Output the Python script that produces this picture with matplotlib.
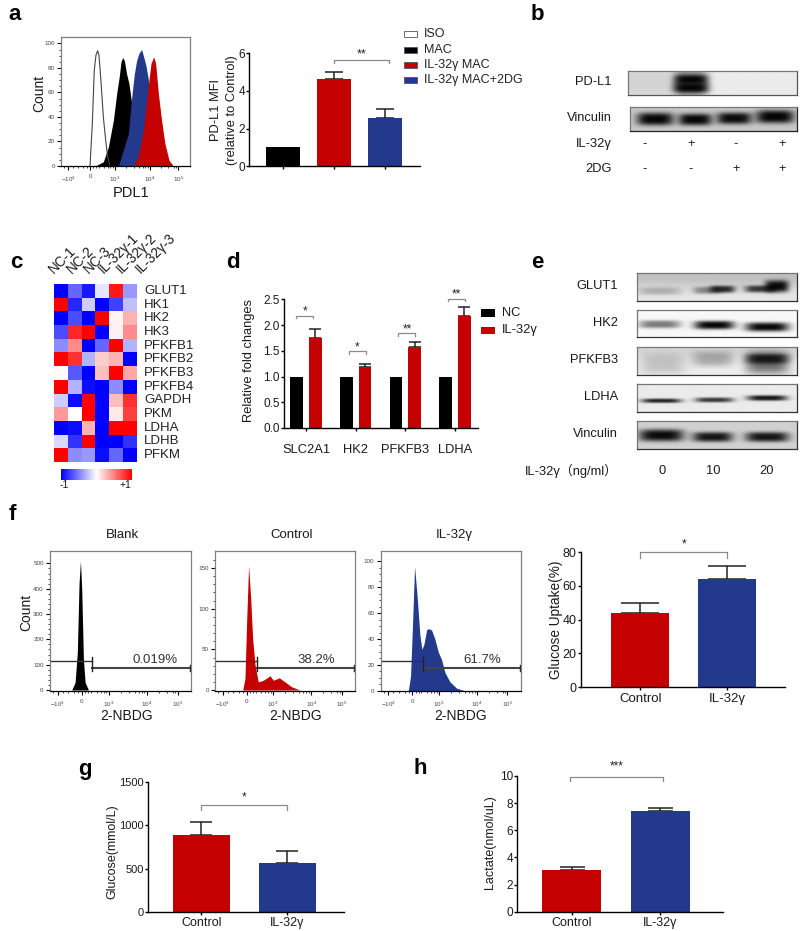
import matplotlib
matplotlib.use("Agg")
import matplotlib.pyplot as plt
import numpy as np
from matplotlib.colors import LinearSegmentedColormap
from matplotlib.patches import Rectangle

plt.rcParams["font.family"] = ["Liberation Sans", "Noto Sans CJK SC"]
plt.rcParams["mathtext.default"] = "regular"

W, H = 800, 931
RED = "#c40000"
BLUE = "#233a8c"
GRAY = "#8a8a8a"
ERR = "#222222"

# a: flow histogram (channel, count)
iso_x = [224, 242, 257, 270, 283, 293, 306, 327, 345, 360, 378]
iso_y = [0, 35, 78, 90.5, 94, 90.5, 73, 40, 21, 7.5, 0]
mac_x = [263, 327, 366, 404, 430, 450, 463, 476, 489, 507, 525, 546, 571, 610, 636]
mac_y = [0, 3.4, 15.7, 37, 59, 73, 85, 88.5, 86, 75, 67, 51, 21, 3, 0]
mac2dg_x = [443, 481, 520, 546, 566, 584, 602, 623, 636, 656, 674, 700, 726, 764]
mac2dg_y = [0, 13, 26.5, 56, 75, 86, 92, 95, 90, 82, 71, 37, 10, 0]
il32_x = [558, 597, 636, 662, 680, 695, 716, 731, 752, 777, 803, 834, 867]
il32_y = [0, 7.5, 29, 53.7, 71, 83.7, 89, 83.7, 59, 37, 18, 4.8, 0]
flow_ticks = [55, 225, 415, 687, 905]
flow_ticklabels = ["$-10^3$", "0", "$10^3$", "$10^4$", "$10^5$"]

# a: MFI bars
mfi_vals = [1, 4.65, 2.55]
mfi_tops = [1, 5.0, 3.05]
legend_a = ["ISO", "MAC", "IL-32γ MAC", "IL-32γ MAC+2DG"]

# c: heatmap
heat_rows = ["GLUT1", "HK1", "HK2", "HK3", "PFKFB1", "PFKFB2", "PFKFB3",
             "PFKFB4", "GAPDH", "PKM", "LDHA", "LDHB", "PFKM"]
heat_cols = ["NC-1", "NC-2", "NC-3", "IL-32γ-1", "IL-32γ-2", "IL-32γ-3"]
heat_vals = [
    [-1, -0.6, -0.9, -0.1, 0.9, -0.4],
    [1, -0.85, -0.2, -1, -0.75, -0.25],
    [-1, -0.7, -1, 1, 0.05, 0.3],
    [-0.7, 0.85, 1, -1, 0.05, 0.45],
    [-0.45, 0.45, -1, -0.6, 1, -0.3],
    [1, 0.8, -0.3, 0.2, 0.3, -1],
    [0.02, -0.65, -1, 0.25, 1, 0.35],
    [1, -0.3, -0.95, -1, -0.45, -1],
    [-0.2, -0.95, 1, -1, 0.25, 0.8],
    [0.4, 0, 1, -1, 0.08, 0.75],
    [-1, -0.95, 0.3, -1, 1, 1],
    [-0.15, -0.8, 1, -1, -1, -0.8],
    [1, -0.45, -0.4, -0.95, -0.6, -1],
]

# d: fold changes
genes = ["SLC2A1", "HK2", "PFKFB3", "LDHA"]
nc_vals = [1, 1, 1, 1]
il_vals = [1.75, 1.18, 1.57, 2.18]
il_tops = [1.93, 1.24, 1.67, 2.35]
d_brackets = [2.18, 1.49, 1.84, 2.51]
d_stars = ["*", "*", "**", "**"]

# f: 2-NBDG histograms
blank_x = [154, 178, 194, 206, 216, 225, 237, 249, 273]
blank_y = [0, 30, 150, 420, 510, 400, 120, 30, 0]
ctrl_x = [198, 214, 226, 240, 255, 269, 286, 309, 345, 393, 417, 459, 500, 547, 607]
ctrl_y = [0, 14, 84, 153, 113, 63, 31, 10, 12, 17.5, 12, 15, 10, 4, 0]
gam_x = [197, 213, 228, 242, 261, 280, 294, 309, 328, 340, 363, 387, 411, 435, 459, 494, 542, 601]
gam_y = [0, 11, 53, 96, 72, 43, 32, 36, 47, 48, 47, 40, 30, 24, 14, 7, 2, 0]

# f, g, h: bars
two_groups = ["Control", "IL-32γ"]
uptake_vals = [44, 64]
uptake_tops = [50, 71.7]
glucose_vals = [890, 560]
glucose_tops = [1045, 705]
lactate_vals = [3.1, 7.4]
lactate_tops = [3.3, 7.65]

# blots: (centre, half width, strength, y centre, half height) in fractions of the strip
blot_pdl1 = [(0.37, 0.1, 0.55, 0.5, 0.6), (0.37, 0.095, 0.95, 0.36, 0.2), (0.37, 0.1, 0.95, 0.7, 0.2),
             (0.1, 0.22, 0.1, 0.5, 0.8)]
blot_vinc_b = [(0.15, 0.11, 0.97, 0.5, 0.27), (0.39, 0.1, 0.97, 0.52, 0.25),
               (0.625, 0.105, 0.95, 0.47, 0.25), (0.87, 0.115, 0.98, 0.4, 0.28)]
blot_glut1 = [(0.5, 1.2, 0.16, 0.0, 0.55), (0.14, 0.13, 0.22, 0.65, 0.14), (0.44, 0.09, 0.4, 0.62, 0.13),
              (0.53, 0.08, 0.8, 0.58, 0.13), (0.77, 0.1, 0.75, 0.57, 0.13), (0.87, 0.075, 0.95, 0.47, 0.22)]
blot_hk2 = [(0.14, 0.13, 0.5, 0.53, 0.15), (0.48, 0.125, 0.97, 0.56, 0.16),
            (0.81, 0.135, 0.97, 0.63, 0.17)]
blot_pfkfb3 = [(0.5, 1.2, 0.1, 0.0, 0.4), (0.16, 0.14, 0.18, 0.6, 0.38), (0.47, 0.13, 0.28, 0.42, 0.28),
               (0.81, 0.135, 0.55, 0.55, 0.42), (0.81, 0.13, 0.8, 0.42, 0.18)]
blot_ldha = [(0.15, 0.125, 0.85, 0.6, 0.08), (0.48, 0.12, 0.75, 0.57, 0.09),
             (0.81, 0.125, 0.9, 0.5, 0.1)]
blot_vinc_e = [(0.15, 0.14, 0.95, 0.51, 0.22), (0.47, 0.125, 0.9, 0.57, 0.18),
               (0.81, 0.135, 0.9, 0.57, 0.18)]
e_doses = ["0", "10", "20"]

fig = plt.figure(figsize=(W / 100, H / 100), dpi=100)


def add_ax(l, t, r, b):
    return fig.add_axes([l / W, 1 - b / H, (r - l) / W, (b - t) / H])


def txt(x, y, s, size=9.3, ha="center", va="center", **kw):
    fig.text(x / W, 1 - y / H, s, fontsize=size, ha=ha, va=va, color=kw.pop("color", "#1a1a1a"), **kw)


def flow_axes(l, t, r, b, ylim, yticks, yminor):
    ax = add_ax(l, t, r, b)
    ax.set_xlim(0, 1000)
    ax.set_ylim(*ylim)
    ax.set_xticks(flow_ticks)
    ax.set_xticklabels(flow_ticklabels, fontsize=4.5, color="#444444")
    ax.set_xticks([20, 90, 130, 170, 200, 250, 270, 290, 330, 360, 380, 400, 500, 560, 600, 630, 650, 670,
                   770, 830, 870, 890], minor=True)
    ax.set_yticks(yticks)
    ax.set_yticks(yminor, minor=True)
    ax.tick_params(axis="y", labelsize=4.5, labelcolor="#444444", length=3, width=0.8, pad=1.5)
    ax.tick_params(axis="x", length=3, width=0.8, pad=3)
    ax.tick_params(which="minor", length=1.5, width=0.5)
    for side in ["top", "right"]:
        ax.spines[side].set_color("#808080")
    for side in ["top", "right", "left", "bottom"]:
        ax.spines[side].set_linewidth(0.9)
    ax.spines["left"].set_color("#808080")
    return ax


def gate(ax, label, label_x):
    tr = ax.get_xaxis_transform()
    ax.plot([0, 300], [0.214, 0.214], color="#333333", lw=1, transform=tr)
    ax.plot([300, 995], [0.164, 0.164], color="#444444", lw=1.5, transform=tr)
    ax.plot([300, 300], [0.145, 0.24], color="#222222", lw=1, transform=tr)
    ax.plot([995, 995], [0.14, 0.185], color="#222222", lw=1, transform=tr)
    ax.text(label_x, 0.222, label, transform=tr, fontsize=9.5, ha="center", va="center", color="#333333")


def bar_axes(l, t, r, b, ylim, yticks, labelsize=8.5):
    ax = add_ax(l, t, r, b)
    ax.set_ylim(*ylim)
    ax.set_yticks(yticks)
    for side in ["top", "right"]:
        ax.spines[side].set_visible(False)
    for side in ["left", "bottom"]:
        ax.spines[side].set_linewidth(1.0)
    ax.tick_params(length=2.5, width=1.0, labelsize=labelsize, pad=0.5, labelcolor="#1a1a1a")
    ax.tick_params(axis="x", pad=1.5)
    return ax


def err_bars(ax, xs, vals, tops, capsize):
    for x, v, top in zip(xs, vals, tops):
        if top > v:
            ax.errorbar(x, v, yerr=[[0], [top - v]], color=ERR, capsize=capsize, elinewidth=1.1,
                        capthick=1.1, zorder=1)


def bracket(ax, x0, x1, y, tip, star, star_dy, size=8.5):
    ax.plot([x0, x0, x1, x1], [y - tip, y, y, y - tip], color=GRAY, lw=0.9, clip_on=False)
    ax.text((x0 + x1) / 2, y + star_dy, star, ha="center", va="center", fontsize=size,
            color="#222222", clip_on=False)


def blot(l, t, r, b, bands, bg, frame="#333333"):
    ax = add_ax(l, t, r, b)
    nx, ny = 240, 50
    gx, gy = np.meshgrid(np.linspace(0, 1, nx), np.linspace(0, 1, ny))
    img = np.full_like(gx, bg, dtype=float)
    for cx, wx, s, cy, hy in bands:
        dark = s * np.exp(-(((gx - cx) / wx) ** 4)) * np.exp(-(np.abs((gy - cy) / hy) ** 3))
        img = img * (1 - dark)
    ax.imshow(img, cmap="gray", vmin=0, vmax=1, extent=[0, 1, 1, 0], aspect="auto", interpolation="bilinear")
    ax.set_xticks([])
    ax.set_yticks([])
    for s in ax.spines.values():
        s.set_linewidth(0.9)
        s.set_color("#777777")
    ax.spines["bottom"].set_color(frame)
    ax.spines["right"].set_color(frame)
    return ax


# panel letters
for x, y, s in [(15, 15, "a"), (537, 15, "b"), (16, 263, "c"), (233, 262, "d"),
                (537, 262, "e"), (12, 515, "f"), (85, 769, "g"), (420, 769, "h")]:
    txt(x, y, s, size=16, fontweight="bold", color="black")

# a flow
ax = flow_axes(61, 37.3, 190.5, 166, (0, 105), [0, 20, 40, 60, 80, 100], list(range(5, 105, 5)))
ax.fill_between(mac_x, mac_y, color="black", lw=0)
ax.fill_between(mac2dg_x, mac2dg_y, color=BLUE, lw=0)
ax.fill_between(il32_x, il32_y, color=RED, lw=0)
ax.plot(iso_x, iso_y, color="#444444", lw=0.8)
txt(39, 93, "Count", size=10, rotation=90)
txt(131, 193, "PDL1", size=10.5)

# a bars
ax = bar_axes(249, 53.3, 420, 166.3, (0, 6), [0, 2, 4, 6], labelsize=8.5)
ax.set_xlim(0.333, 3.686)
ax.set_xticks([1, 2, 3])
ax.set_xticklabels([])
err_bars(ax, [1, 2, 3], mfi_vals, mfi_tops, 6.5)
ax.bar([1, 2, 3], mfi_vals, width=0.67, color=["black", RED, BLUE], zorder=2)
bracket(ax, 2, 3.07, 5.67, 0.2, "**", 0.28, size=9)
txt(216, 110, "PD-L1 MFI", rotation=90)
txt(232, 110, "(relative to Control)", rotation=90)

# a legend
leg_ax = add_ax(400, 25, 520, 90)
leg_ax.set_xlim(400, 520)
leg_ax.set_ylim(90, 25)
leg_ax.axis("off")
for y, lab, col in zip([34, 50, 65, 80], legend_a, ["white", "black", RED, BLUE]):
    leg_ax.add_patch(Rectangle((404, y - 3), 13, 6, facecolor=col, edgecolor="#555555", lw=0.6))
    leg_ax.text(424, y, lab, fontsize=9, va="center", color="#222222")

# b
blot(628, 71, 797, 95, blot_pdl1, 0.92, frame="#555555")
blot(630, 107, 797, 131, blot_vinc_b, 0.78, frame="#222222")
for y, s in [(82, "PD-L1"), (118, "Vinculin"), (144, "IL-32γ"), (169, "2DG")]:
    txt(612, y, s, ha="right")
for x, s1, s2 in zip([645, 691, 736, 782], "-+-+", "--++"):
    txt(x, 144, s1)
    txt(x, 169, s2)

# c
cmap = LinearSegmentedColormap.from_list("bwr2", ["#0000ff", "#ffffff", "#ff0000"])
ax = add_ax(54.3, 284.3, 137, 462)
ax.imshow(heat_vals, cmap=cmap, vmin=-1, vmax=1, aspect="auto", interpolation="nearest")
ax.axis("off")
for i, lab in enumerate(heat_rows):
    ax.text(6.0, i, lab, fontsize=9.5, va="center", color="#222222", clip_on=False)
for x, lab in zip([56, 74, 91, 106, 124, 143], heat_cols):
    txt(x, 276, lab, size=9.8, ha="left", va="bottom", rotation=45, rotation_mode="anchor")
cax = add_ax(60.7, 469, 131, 480)
cax.imshow(np.linspace(-1, 1, 256)[None, :], cmap=cmap, vmin=-1, vmax=1, aspect="auto")
cax.axis("off")
txt(64, 485, "-1", size=7.5)
txt(125, 485, "+1", size=7.5)

# d
ax = bar_axes(284, 299.3, 478, 428, (0, 2.5), [0, 0.5, 1, 1.5, 2, 2.5], labelsize=8.5)
ax.set_yticklabels(["0.0", "0.5", "1.0", "1.5", "2.0", "2.5"])
ax.set_xlim(-0.443, 3.46)
gx = np.arange(len(genes))
err_bars(ax, gx + 0.188, il_vals, il_tops, 4)
ax.bar(gx - 0.188, nc_vals, width=0.257, color="black", zorder=2)
ax.bar(gx + 0.188, il_vals, width=0.257, color=RED, zorder=2)
ax.set_xticks(gx)
ax.set_xticklabels(genes, fontsize=9.3)
ax.tick_params(axis="x", pad=9)
for g, y, star in zip(gx, d_brackets, d_stars):
    dx = -0.025 if g == 0 else 0.03
    bracket(ax, g + dx - 0.17, g + dx + 0.17, y, 0.05, star, 0.08, size=8.5)
txt(249, 361, "Relative fold changes", rotation=90)
for y, lab, col in [(313, "NC", "black"), (330, "IL-32γ", RED)]:
    fig.add_artist(Rectangle((481 / W, 1 - (y + 3.5) / H), 14 / W, 7 / H, facecolor=col, transform=fig.transFigure))
    txt(502, y, lab, ha="left")

# e
for (t, b, bands, bg), (y, lab) in zip(
    [(273, 301, blot_glut1, 0.9), (310, 337, blot_hk2, 0.97), (347, 375, blot_pfkfb3, 0.93),
     (384, 412, blot_ldha, 0.92), (421, 449, blot_vinc_e, 0.82)],
    [(286, "GLUT1"), (323, "HK2"), (360, "PFKFB3"), (397, "LDHA"), (434, "Vinculin")],
):
    blot(637, t, 797, b, bands, bg)
    txt(618, y, lab, ha="right")
txt(618, 471, "IL-32γ（ng/ml）", ha="right")
for x, s in zip([662, 713, 767], e_doses):
    txt(x, 471, s)

# f flow
ax = flow_axes(50, 551, 191, 691, (-4, 549), [0, 100, 200, 300, 400, 500], list(range(20, 520, 20)))
ax.fill_between(blank_x, blank_y, color="black", lw=0)
gate(ax, "0.019%", 745)
ax = flow_axes(215, 551, 355, 691, (-1.2, 171), [0, 50, 100, 150], list(range(10, 170, 10)))
ax.fill_between(ctrl_x, ctrl_y, color=RED, lw=0)
gate(ax, "38.2%", 726)
ax = flow_axes(380.7, 551, 520.7, 691, (-0.2, 108), [0, 20, 40, 60, 80, 100], list(range(5, 105, 5)))
ax.fill_between(gam_x, gam_y, color=BLUE, lw=0)
gate(ax, "61.7%", 723)
for x, s in [(122, "Blank"), (292, "Control"), (454, "IL-32γ")]:
    txt(x, 535, s, size=9.5)
for x in [127, 296, 461]:
    txt(x, 716, "2-NBDG", size=10)
txt(26, 612, "Count", size=10, rotation=90)

# f bars
ax = bar_axes(580.7, 552.3, 785, 687, (0, 80), [0, 20, 40, 60, 80], labelsize=9)
ax.set_xlim(-0.684, 1.664)
err_bars(ax, [0, 1], uptake_vals, uptake_tops, 14)
ax.bar([0, 1], uptake_vals, width=0.67, color=[RED, BLUE], zorder=2)
ax.set_xticks([0, 1])
ax.set_xticklabels(two_groups, fontsize=9.5)
bracket(ax, 0, 1, 80, 3.3, "*", 4.5, size=8.5)
txt(556, 620, "Glucose Uptake(%)", size=9.8, rotation=90)

# g
ax = bar_axes(148, 782.3, 343.5, 911.7, (0, 1500), [0, 500, 1000, 1500], labelsize=8)
ax.set_xlim(-0.62, 1.655)
xs = [0, 1]
err_bars(ax, xs, glucose_vals, glucose_tops, 8)
ax.bar(xs, glucose_vals, width=0.665, color=[RED, BLUE], zorder=2)
ax.set_xticks(xs)
ax.set_xticklabels(two_groups, fontsize=9)
bracket(ax, 0, 1, 1240, 60, "*", 90, size=8.5)
txt(112, 852, "Glucose(mmol/L)", size=9, rotation=90)

# h
ax = bar_axes(517, 776, 722.6, 911.7, (0, 10), [0, 2, 4, 6, 8, 10], labelsize=8.5)
ax.set_xlim(-0.614, 1.7)
err_bars(ax, xs, lactate_vals, lactate_tops, 9)
ax.bar(xs, lactate_vals, width=0.67, color=[RED, BLUE], zorder=2)
ax.set_xticks(xs)
ax.set_xticklabels(two_groups, fontsize=9)
bracket(ax, -0.02, 1.03, 9.95, 0.3, "***", 0.75, size=8.5)
txt(490, 842, "Lactate(nmol/uL)", size=9, rotation=90)

fig.savefig("out.png", dpi=100)
